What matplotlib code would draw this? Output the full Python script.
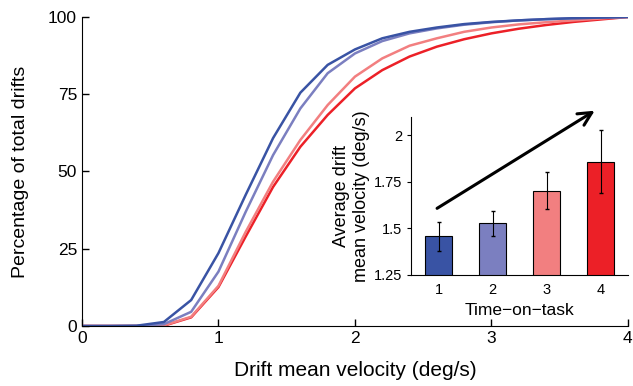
import matplotlib.pyplot as plt
import numpy as np

plt.rcParams['font.family'] = ['Liberation Sans', 'DejaVu Sans']

# cumulative distributions of drift mean velocity, one per time-on-task block
vel = [0, 0.2, 0.4, 0.6, 0.8, 1.0, 1.2, 1.4, 1.6, 1.8, 2.0,
       2.2, 2.4, 2.6, 2.8, 3.0, 3.2, 3.4, 3.6, 3.8, 4.0]
cum1 = [0, 0, 0.1, 1.3, 8.4, 23.6, 42.5, 60.8, 75.5, 84.5, 89.5,
        93.1, 95.2, 96.6, 97.7, 98.4, 98.9, 99.3, 99.6, 99.8, 100]
cum2 = [0, 0, 0, 0.6, 4.6, 17.6, 37.0, 55.3, 70.4, 81.8, 88.2,
        92.2, 94.7, 96.3, 97.5, 98.3, 98.9, 99.3, 99.6, 99.8, 100]
cum3 = [0, 0, 0, 0.2, 3.0, 13.0, 30.5, 46.7, 60.2, 71.5, 80.7,
        86.6, 90.7, 93.1, 95.2, 96.6, 97.6, 98.3, 98.9, 99.5, 100]
cum4 = [0, 0, 0, 0.1, 2.8, 12.6, 29.0, 45.0, 58.0, 68.3, 76.9,
        82.8, 87.2, 90.4, 92.8, 94.7, 96.2, 97.4, 98.4, 99.2, 100]

# inset: mean velocity per block with error bars
blocks = [1, 2, 3, 4]
mean_vel = [1.457, 1.527, 1.703, 1.858]
err_vel = [0.077, 0.065, 0.10, 0.17]

colors = ['#3953a4', '#7b7fc0', '#f27f80', '#ec2027']

fig = plt.figure(figsize=(6.33, 3.86), dpi=100)
ax = fig.add_axes([0.1295, 0.1554, 0.8625, 0.8006])

for cum, c in zip([cum4, cum3, cum2, cum1], colors[::-1]):
    ax.plot(vel, cum, color=c, lw=1.8)

ax.set_xlim(0, 4)
ax.set_ylim(0, 100)
ax.set_xticks([0, 1, 2, 3, 4])
ax.set_yticks([0, 25, 50, 75, 100])
ax.tick_params(direction='in', length=5, width=1, labelsize=12.5)
ax.spines['top'].set_visible(False)
ax.spines['right'].set_visible(False)
ax.set_xlabel('Drift mean velocity (deg/s)', fontsize=15, labelpad=11)
ax.set_ylabel('Percentage of total drifts', fontsize=14, labelpad=14)

# inset bar chart
axi = fig.add_axes([0.650, 0.2876, 0.342, 0.4101])
axi.bar(blocks, mean_vel, width=0.5, color=colors, edgecolor='black', lw=0.8,
        yerr=err_vel, error_kw=dict(ecolor='black', elinewidth=0.8, capsize=1.5))
axi.set_xlim(0.5, 4.5)
axi.set_ylim(1.25, 2.1)
axi.set_xticks(blocks)
axi.set_yticks([1.25, 1.5, 1.75, 2])
axi.set_yticklabels(['1.25', '1.5', '1.75', '2'])
axi.tick_params(direction='out', length=3, labelsize=10.5)
axi.tick_params(axis='x', length=0, pad=6)
axi.spines['top'].set_visible(False)
axi.spines['right'].set_visible(False)
axi.patch.set_alpha(0)
axi.set_xlabel('Time\u2212on\u2212task', fontsize=12.5, labelpad=4)
axi.set_ylabel('Average drift\nmean velocity (deg/s)', fontsize=13, labelpad=3)

axi.annotate('', xy=(3.93, 2.14), xytext=(0.93, 1.60),
             arrowprops=dict(arrowstyle='->', color='black', lw=2.2,
                             mutation_scale=24),
             annotation_clip=False)

fig.savefig('out.png', dpi=100)
